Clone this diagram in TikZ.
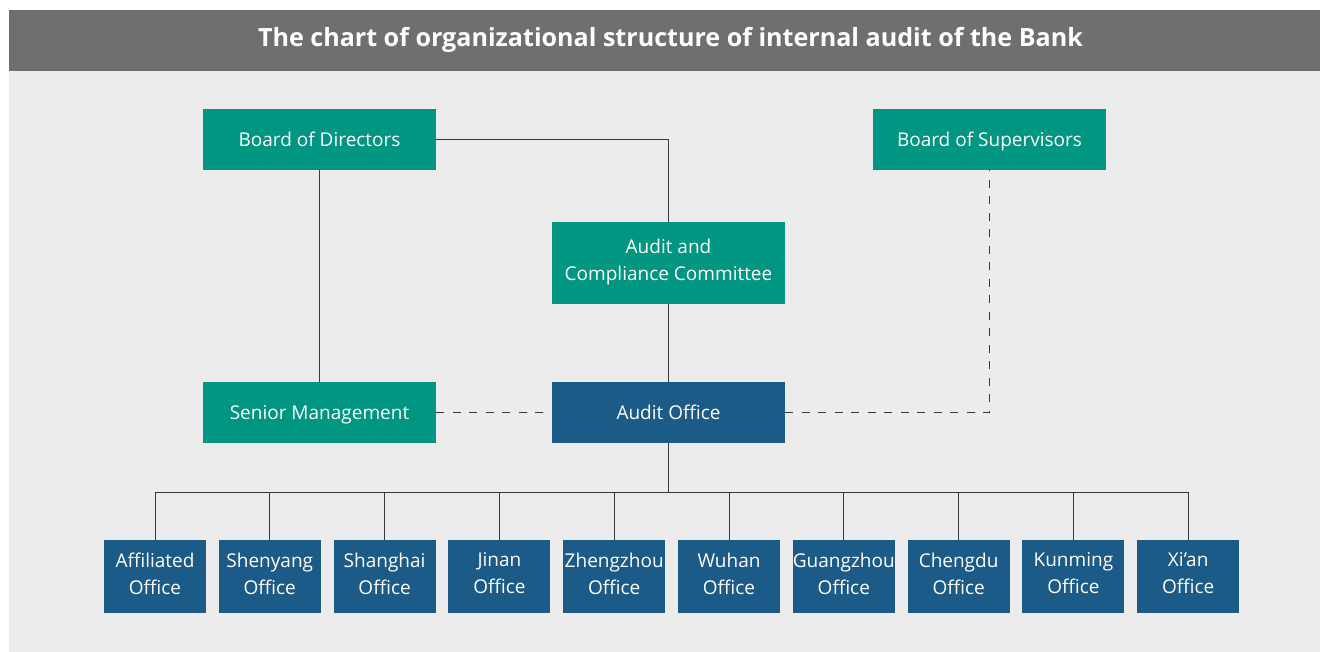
\documentclass[tikz,border=0pt]{standalone}
\usepackage{fontspec}
\setmainfont{Open Sans}
\usepackage{tikz}
\definecolor{auditgreen}{HTML}{009681}
\definecolor{auditblue}{HTML}{1C5B88}
\definecolor{titlegray}{HTML}{706F6D}
\definecolor{panelgray}{HTML}{ECECEC}
\definecolor{linegray}{HTML}{3A3A3A}
\newcommand{\boxstrut}{\rule[-6.4pt]{0pt}{26.4pt}}
\tikzset{
  box/.style={text=white,align=center,inner sep=0pt,
    font=\fontsize{19}{27}\selectfont,
    execute at begin node=\boxstrut,execute at end node=\boxstrut},
}

\begin{document}
\begin{tikzpicture}[
    x=1pt,y=-1pt,
    greenbox/.style={box,fill=auditgreen,minimum width=233,minimum height=61},
    bluebox/.style={box,fill=auditblue,minimum width=233,minimum height=61},
    officebox/.style={box,fill=auditblue,minimum width=102,minimum height=73},
    link/.style={draw=linegray,line width=1pt},
    dashlink/.style={link,dash pattern=on 8pt off 8.5pt}
    ]
    \useasboundingbox (0,0) rectangle (1320,652);
    \fill[white] (0,0) rectangle (1320,652);
    \fill[panelgray] (9,10) rectangle (1320,652);
    \fill[titlegray] (9,10) rectangle (1320,71);
    \node[text=white,font=\fontsize{25.1}{30}\selectfont\bfseries] (title) at (670.5,40)
      {The chart of organizational structure of internal audit of the Bank};

    \node[greenbox] (bod) at (319.5,139.5) {Board of Directors};
    \node[greenbox] (bos) at (989.5,139.5) {Board of Supervisors};
    \node[greenbox,minimum height=82] (acc) at (668.5,263) {Audit and\\Compliance Committee};
    \node[greenbox] (sm) at (319.5,412.5) {Senior Management};
    \node[bluebox] (ao) at (668.5,412.5) {Audit Office};

    \foreach \name [count=\i from 0] in {Affiliated,Shenyang,Shanghai,Jinan,Zhengzhou,
        Wuhan,Guangzhou,Chengdu,Kunming,Xi’an}
      \node[officebox] (o\i) at (155+114.8*\i,576.5) {\name\\Office};

    \coordinate (bus) at (668.5,492);
    \draw[link] (bod.east) -| (acc.north);
    \draw[link] (bod.south) -- (sm.north);
    \draw[link] (acc.south) -- (ao.north);
    \draw[dashlink] (sm.east) -- (ao.west);
    \draw[dashlink] (ao.east) -| (bos.south);
    \draw[link] (ao.south) -- (bus);
    \foreach \i in {0,...,9}
      \draw[link] (bus) -| (o\i.north);
  \end{tikzpicture}
\end{document}
